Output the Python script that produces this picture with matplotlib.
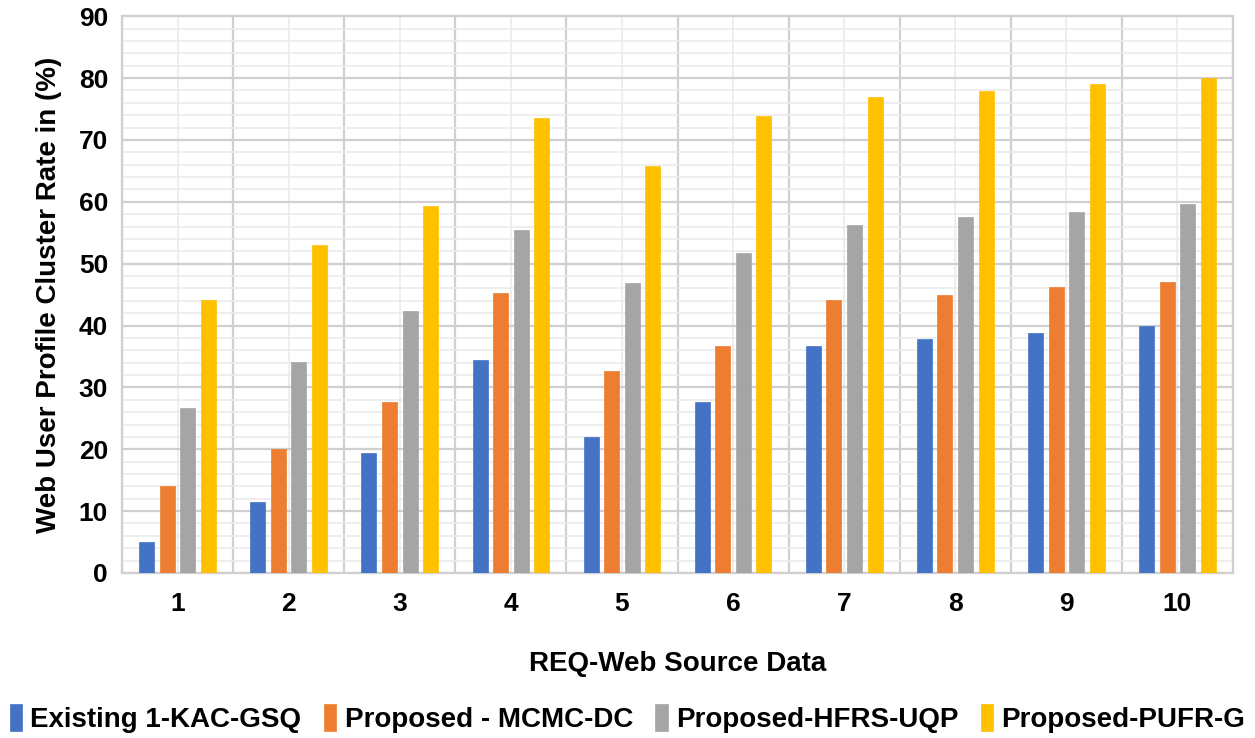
import matplotlib
matplotlib.use("Agg")
import matplotlib.pyplot as plt
import numpy as np
from matplotlib.ticker import MultipleLocator

categories = ["1", "2", "3", "4", "5", "6", "7", "8", "9", "10"]
series_names = ["Existing 1-KAC-GSQ", "Proposed - MCMC-DC", "Proposed-HFRS-UQP", "Proposed-PUFR-G"]
kac = [5.0, 11.5, 19.4, 34.4, 22.0, 27.6, 36.7, 37.9, 38.8, 40.0]
mcmc = [14.0, 20.0, 27.6, 45.3, 32.6, 36.7, 44.1, 45.0, 46.2, 47.0]
hfrs = [26.7, 34.1, 42.4, 55.4, 46.8, 51.8, 56.3, 57.5, 58.4, 59.6]
pufr = [44.2, 53.0, 59.3, 73.5, 65.8, 73.8, 77.0, 77.9, 79.1, 80.0]
colors = ["#4472C4", "#ED7D31", "#A5A5A5", "#FFC000"]

plt.rcParams['font.family'] = ['Liberation Sans', 'DejaVu Sans']
plt.rcParams['font.weight'] = 'bold'

fig = plt.figure(figsize=(12.55, 7.38), dpi=100)
ax = fig.add_axes([0.0972, 0.2236, 0.8853, 0.7544])

x = np.arange(len(categories))
spacing = 0.185
width = 0.135
for i, (vals, c, name) in enumerate(zip([kac, mcmc, hfrs, pufr], colors, series_names)):
    ax.bar(x + (i - 1.5) * spacing, vals, width, color=c, label=name, zorder=3,
           edgecolor=c, linewidth=0.5)

ax.set_xlim(-0.5, len(categories) - 0.5)
ax.set_ylim(0, 90)
ax.yaxis.set_major_locator(MultipleLocator(10))
ax.yaxis.set_minor_locator(MultipleLocator(2))
ax.set_xticks(x)
ax.set_xticks(np.arange(-0.5, len(categories)), minor=True)
ax.set_xticklabels(categories)
ax.grid(which='major', axis='y', color='#D0D0D0', linewidth=1.6, zorder=0)
ax.grid(which='minor', axis='y', color='#EBEBEB', linewidth=1.2, zorder=0)
ax.grid(which='minor', axis='x', color='#D0D0D0', linewidth=1.6, zorder=0)
ax.grid(which='major', axis='x', color='#EBEBEB', linewidth=1.2, zorder=0)
ax.tick_params(which='both', length=0)
ax.tick_params(axis='y', labelsize=19, pad=10)
ax.tick_params(axis='x', labelsize=19, pad=14)
for s in ax.spines.values():
    s.set_color('#D0D0D0')
    s.set_linewidth(1.6)

ax.set_xlabel("REQ-Web Source Data", fontsize=20, fontweight='bold', labelpad=25)
ax.set_ylabel("Web User Profile Cluster Rate in (%)", fontsize=20, fontweight='bold', labelpad=12)

fig.legend(loc='lower center', bbox_to_anchor=(0.5, -0.027), ncol=4, frameon=False,
           fontsize=20, handlelength=0.45, handleheight=1.1, handletextpad=0.3, columnspacing=0.8)

fig.savefig("out.png", dpi=100)
